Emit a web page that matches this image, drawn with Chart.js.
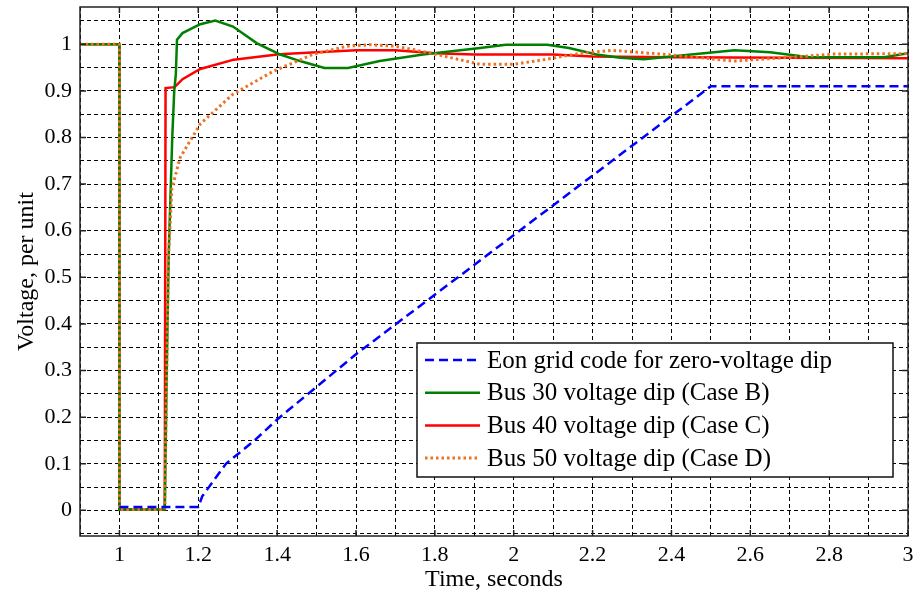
<!DOCTYPE html>
<html>
<head>
<meta charset="utf-8">
<script src="https://cdn.jsdelivr.net/npm/chart.js@4.4.1/dist/chart.umd.min.js"></script>
<style>
  html, body { margin: 0; padding: 0; background: #fff; }
  #wrap { width: 913px; height: 594px; position: relative; }
</style>
</head>
<body>
<div id="wrap"><canvas id="voltChart"></canvas></div>
<script>
// Eon grid code for zero-voltage dip
const gridTimes = [1.0, 1.2, 1.21, 1.27, 1.34, 1.4, 1.6, 2.5, 3.0];
const gridVolts = [0.007, 0.007, 0.03, 0.1, 0.148, 0.195, 0.335, 0.91, 0.91];

// Bus 30 voltage dip (Case B)
const bus30Times = [0.9, 1.0, 1.0, 1.115, 1.12, 1.125, 1.13, 1.134, 1.139, 1.143, 1.146, 1.16, 1.205, 1.243, 1.288, 1.349, 1.408, 1.458, 1.52, 1.58, 1.66, 1.77, 1.915, 1.98, 2.085, 2.14, 2.21, 2.27, 2.33, 2.45, 2.56, 2.65, 2.75, 2.94, 3.0];
const bus30Volts = [1, 1, 0.002, 0.002, 0.3, 0.55, 0.69, 0.8, 0.9, 0.935, 1.01, 1.024, 1.043, 1.051, 1.038, 1.002, 0.978, 0.964, 0.949, 0.949, 0.964, 0.978, 0.992, 0.999, 0.999, 0.992, 0.978, 0.971, 0.968, 0.978, 0.987, 0.983, 0.972, 0.972, 0.981];

// Bus 40 voltage dip (Case C)
const bus40Times = [0.9, 1.0, 1.0, 1.115, 1.117, 1.14, 1.16, 1.205, 1.29, 1.4, 1.44, 1.5, 1.6, 1.7, 1.8, 1.9, 2.1, 2.2, 2.4, 3.0];
const bus40Volts = [1, 1, 0.002, 0.002, 0.906, 0.908, 0.925, 0.947, 0.967, 0.978, 0.98, 0.983, 0.987, 0.987, 0.981, 0.978, 0.978, 0.974, 0.972, 0.97];

// Bus 50 voltage dip (Case D)
const bus50Times = [0.9, 1.0, 1.0, 1.115, 1.12, 1.124, 1.133, 1.154, 1.205, 1.288, 1.39, 1.49, 1.578, 1.636, 1.7, 1.79, 1.857, 1.915, 2.0, 2.085, 2.17, 2.25, 2.39, 2.56, 2.7, 2.81, 3.0];
const bus50Volts = [1, 1, 0.002, 0.002, 0.3, 0.536, 0.69, 0.757, 0.829, 0.893, 0.942, 0.978, 0.996, 0.999, 0.996, 0.981, 0.968, 0.957, 0.957, 0.968, 0.981, 0.987, 0.978, 0.964, 0.972, 0.979, 0.98];

const seriesLabels = [
  "Eon grid code for zero-voltage dip",
  "Bus 30 voltage dip (Case B)",
  "Bus 40 voltage dip (Case C)",
  "Bus 50 voltage dip (Case D)"
];

// tick positions
const xTicks = [];
for (let i = 9; i <= 30; i++) xTicks.push(i / 10);
const yTicks = [];
for (let i = -1; i <= 21; i++) yTicks.push(i / 20);

const serif = "'Liberation Serif', 'DejaVu Serif', serif";

function pts(ts, vs) {
  return ts.map((t, i) => ({ x: t, y: vs[i] }));
}

function isLabelX(v) {
  const k = Math.round(v * 10);
  return k % 2 === 0 && Math.abs(v * 10 - k) < 1e-6;
}
function isLabelY(v) {
  const k = Math.round(v * 20);
  return k % 2 === 0 && Math.abs(v * 20 - k) < 1e-6 && v >= 0 && v <= 1.0001;
}

const styles = [
  { color: '#0000ff', dash: [9, 5], order: 0 },
  { color: '#008000', dash: [], order: 2 },
  { color: '#ff0000', dash: [], order: 3 },
  { color: '#ee7020', dash: [2.5, 3], order: 1 }
];

const framePlugin = {
  id: 'frame',
  afterDatasetsDraw(chart) {
    const { ctx } = chart;
    // legend box
    const bx = 417, by = 343, bw = 476, bh = 134;
    ctx.save();
    ctx.fillStyle = '#fff';
    ctx.fillRect(bx, by, bw, bh);
    ctx.strokeStyle = '#111';
    ctx.lineWidth = 1.5;
    ctx.strokeRect(bx, by, bw, bh);
    ctx.font = '25px ' + serif;
    ctx.textBaseline = 'middle';
    ctx.fillStyle = '#000';
    seriesLabels.forEach((lab, i) => {
      const cy = by + 17 + i * 32.7;
      const s = styles[i];
      ctx.strokeStyle = s.color;
      ctx.lineWidth = i === 3 ? 3 : 2.5;
      ctx.setLineDash(s.dash);
      ctx.beginPath();
      ctx.moveTo(bx + 8, cy);
      ctx.lineTo(bx + 63, cy);
      ctx.stroke();
      ctx.setLineDash([]);
      ctx.fillText(lab, bx + 70, cy + 1);
    });
    ctx.restore();
  },
  afterDraw(chart) {
    const { ctx, chartArea: a, scales: { x, y } } = chart;
    ctx.save();
    ctx.strokeStyle = '#222';
    ctx.lineWidth = 1.5;
    ctx.beginPath();
    xTicks.filter(isLabelX).forEach(v => {
      const px = x.getPixelForValue(v);
      ctx.moveTo(px, a.top); ctx.lineTo(px, a.top + 6);
      ctx.moveTo(px, a.bottom); ctx.lineTo(px, a.bottom - 6);
    });
    yTicks.filter(isLabelY).forEach(v => {
      const py = y.getPixelForValue(v);
      ctx.moveTo(a.left, py); ctx.lineTo(a.left + 6, py);
      ctx.moveTo(a.right, py); ctx.lineTo(a.right - 6, py);
    });
    ctx.stroke();
    ctx.strokeRect(a.left, a.top, a.right - a.left, a.bottom - a.top);
    ctx.restore();
  }
};

const ctx = document.getElementById('voltChart');
new Chart(ctx, {
  type: 'line',
  data: {
    datasets: [
      { label: seriesLabels[0], data: pts(gridTimes, gridVolts) },
      { label: seriesLabels[1], data: pts(bus30Times, bus30Volts) },
      { label: seriesLabels[2], data: pts(bus40Times, bus40Volts) },
      { label: seriesLabels[3], data: pts(bus50Times, bus50Volts) }
    ].map((d, i) => Object.assign(d, {
      borderColor: styles[i].color,
      borderDash: styles[i].dash,
      borderWidth: i === 3 ? 3 : 2.5,
      pointRadius: 0,
      tension: 0,
      fill: false,
      order: styles[i].order
    }))
  },
  options: {
    responsive: true,
    maintainAspectRatio: false,
    animation: false,
    layout: { padding: { top: 7, right: 5, left: 0, bottom: 0 } },
    plugins: {
      legend: { display: false },
      tooltip: { enabled: false }
    },
    scales: {
      x: {
        type: 'linear',
        min: 0.9,
        max: 3.0,
        afterBuildTicks: s => { s.ticks = xTicks.map(v => ({ value: v })); },
        afterFit: s => { s.height = 58; s.paddingLeft = 0; s.paddingRight = 0; },
        grid: { color: '#000', lineWidth: 1, drawTicks: false },
        border: { display: false, dash: [4, 3] },
        ticks: {
          autoSkip: false,
          maxRotation: 0,
          padding: 6,
          color: '#000',
          font: { family: serif, size: 22 },
          callback: v => isLabelX(v) ? String(Math.round(v * 10) / 10) : ''
        },
        title: {
          display: true,
          text: 'Time, seconds',
          color: '#000',
          font: { family: serif, size: 24 },
          padding: { top: 0, bottom: 0 }
        }
      },
      y: {
        min: -0.055,
        max: 1.08,
        afterBuildTicks: s => { s.ticks = yTicks.map(v => ({ value: v })); },
        afterFit: s => { s.width = 80; s.paddingTop = 0; s.paddingBottom = 0; },
        grid: { color: '#000', lineWidth: 1, drawTicks: false },
        border: { display: false, dash: [4, 3] },
        ticks: {
          autoSkip: false,
          padding: 8,
          color: '#000',
          font: { family: serif, size: 22 },
          callback: v => isLabelY(v) ? String(Math.round(v * 10) / 10) : ''
        },
        title: {
          display: true,
          text: 'Voltage, per unit',
          color: '#000',
          font: { family: serif, size: 24 },
          padding: { top: 12, bottom: 0 }
        }
      }
    }
  },
  plugins: [framePlugin]
});
</script>
</body>
</html>
